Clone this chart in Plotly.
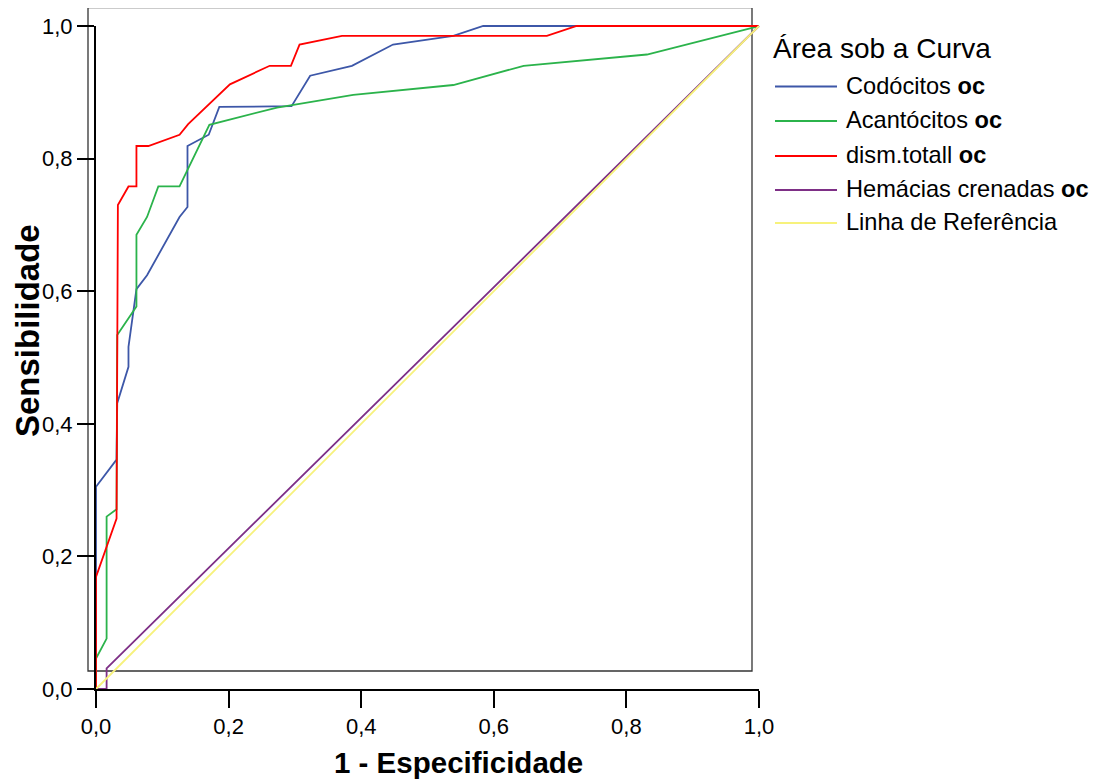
import plotly.graph_objects as go

# ---------------- data ----------------
series_names = ["Codócitos", "Acantócitos", "dism.totall", "Hemácias crenadas"]
reference_name = "Linha de Referência"

codocitos_x = [0.0, 0.0, 0.031, 0.032, 0.049, 0.049, 0.061, 0.077, 0.126, 0.138, 0.138,
               0.170, 0.186, 0.295, 0.323, 0.386, 0.448, 0.539, 0.584, 1.0]
codocitos_y = [0.0, 0.305, 0.346, 0.431, 0.486, 0.516, 0.603, 0.624, 0.712, 0.727, 0.819,
               0.836, 0.878, 0.879, 0.925, 0.940, 0.972, 0.985, 1.0, 1.0]

acantocitos_x = [0.0, 0.0, 0.016, 0.016, 0.031, 0.032, 0.061, 0.061, 0.077, 0.094, 0.126,
                 0.171, 0.273, 0.388, 0.539, 0.645, 0.831, 1.0]
acantocitos_y = [0.0, 0.046, 0.076, 0.260, 0.271, 0.534, 0.577, 0.685, 0.712, 0.758, 0.758,
                 0.851, 0.877, 0.896, 0.911, 0.940, 0.957, 1.0]

dism_x = [0.0, 0.0, 0.031, 0.033, 0.049, 0.061, 0.061, 0.079, 0.126, 0.139, 0.202, 0.262,
          0.294, 0.307, 0.371, 0.680, 0.725, 1.0]
dism_y = [0.0, 0.169, 0.257, 0.730, 0.758, 0.758, 0.819, 0.819, 0.836, 0.852, 0.912, 0.940,
          0.940, 0.972, 0.985, 0.985, 1.0, 1.0]

crenadas_x = [0.0, 0.016, 0.016, 1.0]
crenadas_y = [0.0, 0.0, 0.031, 1.0]

reference_x = [0.0, 1.0]
reference_y = [0.0, 1.0]

tick_vals = [0.0, 0.2, 0.4, 0.6, 0.8, 1.0]
tick_text = ["0,0", "0,2", "0,4", "0,6", "0,8", "1,0"]

colors = ["#3D57A8", "#2BB34B", "#FF0000", "#7E2F86", "#F7F27C"]

# ---------------- layout geometry (window pixels) ----------------
OFF = 8                 # default page margin around the figure
W, H = 1103 - OFF, 782 - OFF
X0, X1 = 96, 759        # window pixel of x=0 and x=1
Y0, Y1 = 689, 26        # window pixel of y=0 and y=1
PAD = 0.012
FONT = "Liberation Sans, Arial, sans-serif"

def px(x):
    return (x - OFF) / W

def py(y):
    return 1 - (y - OFF) / H

ux = (X1 - X0)
uy = (Y0 - Y1)

fig = go.Figure()

all_x = [codocitos_x, acantocitos_x, dism_x, crenadas_x, reference_x]
all_y = [codocitos_y, acantocitos_y, dism_y, crenadas_y, reference_y]
names = series_names + [reference_name]
for xs, ys, nm, c in zip(all_x, all_y, names, colors):
    fig.add_trace(go.Scatter(x=xs, y=ys, mode="lines", name=nm,
                             line=dict(color=c, width=1.8),
                             showlegend=False, xaxis="x", yaxis="y",
                             hoverinfo="skip"))

# empty trace so that the visible axis pair is instantiated
fig.add_trace(go.Scatter(x=[], y=[], xaxis="x2", yaxis="y2", showlegend=False))

axis_common = dict(range=[0, 1], showline=True, linecolor="black", linewidth=2,
                   ticks="outside", ticklen=17, tickwidth=2, tickcolor="black",
                   tickvals=tick_vals, ticktext=tick_text,
                   tickfont=dict(size=22, family=FONT, color="black"),
                   showgrid=False, zeroline=False, automargin=False, fixedrange=True)

fig.update_layout(
    width=W, height=H,
    margin=dict(l=0, r=0, t=0, b=0),
    paper_bgcolor="white",
    plot_bgcolor="rgba(0,0,0,0)",
    showlegend=False,
    font=dict(family=FONT, color="black"),
    xaxis=dict(domain=[px(X0 - PAD * ux), px(X1 + PAD * ux)], range=[-PAD, 1 + PAD],
               visible=False, anchor="y", automargin=False),
    yaxis=dict(domain=[py(Y0 + PAD * uy), py(Y1 - PAD * uy)], range=[-PAD, 1 + PAD],
               visible=False, anchor="x", automargin=False),
    xaxis2=dict(domain=[px(X0), px(X1)], anchor="y2", **axis_common),
    yaxis2=dict(domain=[py(Y0), py(Y1)], anchor="x2", **axis_common),
)

# inner frame (SPSS style)
fig.add_shape(type="rect", xref="paper", yref="paper",
              x0=px(88), x1=px(752), y0=py(671), y1=py(7.5),
              line=dict(color="#333333", width=1.3), layer="below")

# axis titles
fig.add_annotation(text="<b>1 - Especificidade</b>", xref="paper", yref="paper",
                   x=px(458), y=py(762), xanchor="center", yanchor="middle",
                   showarrow=False, font=dict(size=29.5, family=FONT, color="black"))
fig.add_annotation(text="<b>Sensibilidade</b>", xref="paper", yref="paper",
                   x=px(28), y=py(331), xanchor="center", yanchor="middle", textangle=-90,
                   showarrow=False, font=dict(size=33, family=FONT, color="black"))

# legend (drawn manually to match the SPSS layout)
fig.add_annotation(text="Área sob a Curva", xref="paper", yref="paper",
                   x=px(771), y=py(49), xanchor="left", yanchor="middle",
                   showarrow=False, font=dict(size=28, family=FONT, color="black"))
row_y = [86.5, 121, 156, 190, 223]
labels = [n + " <b>oc</b>" for n in series_names] + [reference_name]
for ry, lab, c in zip(row_y, labels, colors):
    fig.add_shape(type="line", xref="paper", yref="paper",
                  x0=px(775), x1=px(837), y0=py(ry), y1=py(ry),
                  line=dict(color=c, width=2))
    fig.add_annotation(text=lab, xref="paper", yref="paper",
                       x=px(844), y=py(ry - 1), xanchor="left", yanchor="middle",
                       showarrow=False, font=dict(size=23.6, family=FONT, color="black"))

fig.write_html("out.html")
